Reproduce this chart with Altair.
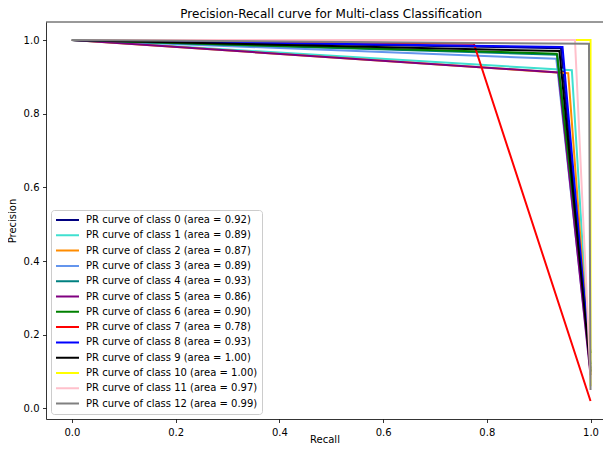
import altair as alt
import pandas as pd

class_ids = list(range(13))
colors = ["navy", "turquoise", "darkorange", "cornflowerblue", "teal", "purple",
          "green", "red", "blue", "black", "yellow", "pink", "gray"]
areas = [0.92, 0.89, 0.87, 0.89, 0.93, 0.86, 0.90, 0.78, 0.93, 1.00, 1.00, 0.97, 0.99]
corner_recall = [0.943, 0.964, 0.957, 0.934, 0.936, 0.938, 0.935, 0.775, 0.946, 0.940, 1.0, 0.970, 0.997]
corner_precision = [0.978, 0.918, 0.910, 0.949, 0.960, 0.912, 0.963, 0.990, 0.981, 0.970, 1.0, 1.0, 0.990]
end_precision = [0.10, 0.09, 0.09, 0.10, 0.12, 0.09, 0.15, 0.02, 0.11, 0.10, 0.06, 0.08, 0.05]
tick_values = [0.0, 0.2, 0.4, 0.6, 0.8, 1.0]

labels = [f"PR curve of class {i} (area = {areas[i]:.2f})" for i in class_ids]

rows = []
for i in class_ids:
    pts = [(0.0, 1.0), (corner_recall[i], corner_precision[i]), (1.0, end_precision[i])]
    for k, (r, p) in enumerate(pts):
        rows.append({"label": labels[i], "cls": i, "step": k, "recall": r, "precision": p})
df = pd.DataFrame(rows)

W, H = 557, 397
PX_PER_UNIT = 518.6
x_max = -0.05 + W / PX_PER_UNIT

lines = alt.Chart(df).mark_line(strokeWidth=2).encode(
    x=alt.X("recall:Q",
            scale=alt.Scale(domain=[-0.05, x_max], nice=False, zero=False),
            axis=alt.Axis(values=tick_values, format=".1f", title="Recall",
                          labelPadding=4.5, titleBaseline="alphabetic", titleY=23.5)),
    y=alt.Y("precision:Q",
            scale=alt.Scale(domain=[-0.029, 1.049], nice=False, zero=False),
            axis=alt.Axis(values=tick_values, format=".1f", title="Precision",
                          labelPadding=3.5, titlePadding=6)),
    color=alt.Color("label:N",
                    scale=alt.Scale(domain=labels, range=colors),
                    legend=alt.Legend(
                        title=None, orient="none", legendX=5, legendY=188,
                        symbolType="stroke", symbolSize=529, symbolStrokeWidth=2,
                        labelFontSize=10, labelColor="black", labelFont="DejaVu Sans",
                        clipHeight=12, rowPadding=3.3, padding=4, labelOffset=6,
                        strokeColor="#cccccc", fillColor="rgba(255,255,255,0.8)",
                        cornerRadius=3, labelLimit=400)),
    order=alt.Order("step:Q"),
    detail="cls:N",
)

top_border = alt.Chart(pd.DataFrame({"a": [0]})).mark_rule(color="black", strokeWidth=0.8).encode(
    x=alt.value(0), x2=alt.value(W), y=alt.value(0)
)

chart = alt.layer(lines, top_border).properties(
    width=W, height=H,
    autosize=alt.AutoSizeParams(type="none"),
    padding={"left": 38, "top": 14, "right": 0, "bottom": 25},
    title=alt.TitleParams("Precision-Recall curve for Multi-class Classification",
                          fontSize=12, fontWeight="normal", color="black",
                          anchor="middle", offset=1, dx=6.75, font="DejaVu Sans"),
).configure(font="DejaVu Sans").configure_view(stroke=None).configure_axis(
    grid=False, labelFontSize=10, labelColor="black", labelFont="DejaVu Sans",
    tickColor="black", domainColor="black", tickSize=3.5, tickWidth=0.8,
    domainWidth=0.8, titleFontSize=10, titleFontWeight="normal",
    titleColor="black", titleFont="DejaVu Sans", labelFlush=False,
)

chart.save("out.html", embed_options={"renderer": "svg", "actions": False})
